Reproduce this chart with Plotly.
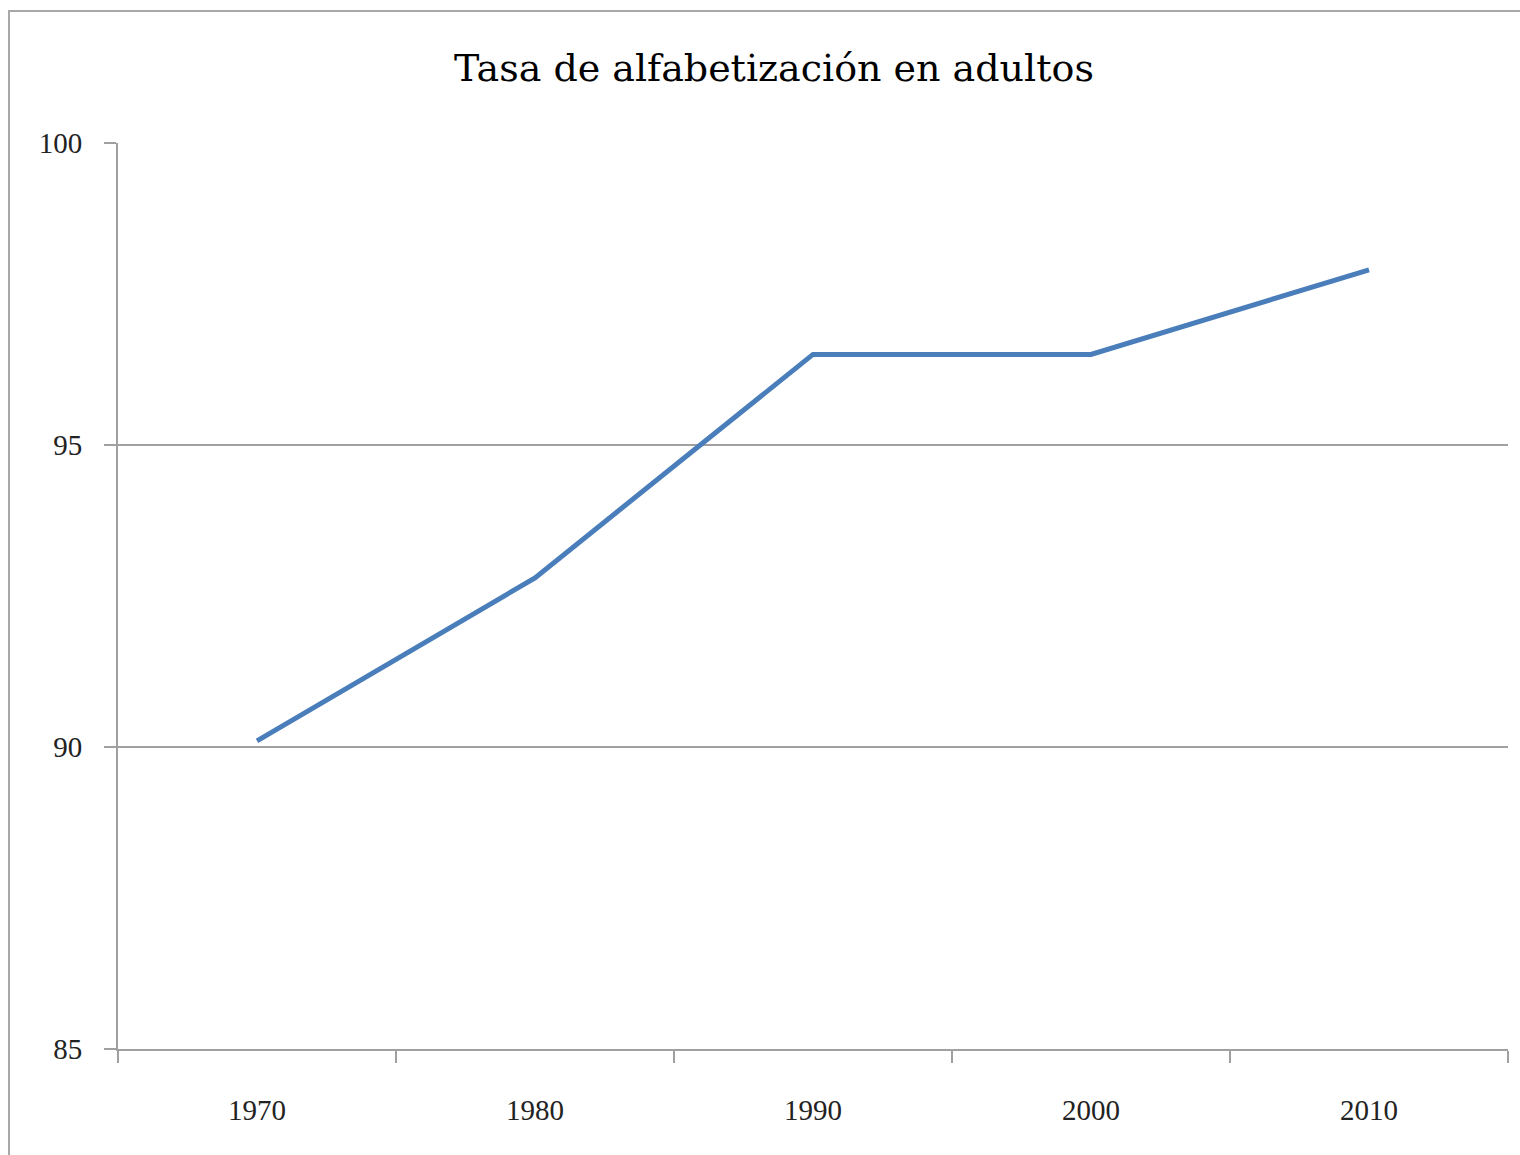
import plotly.graph_objects as go

# datos
anios = ["1970", "1980", "1990", "2000", "2010"]
tasa = [90.1, 92.8, 96.5, 96.5, 97.9]
y_ticks = [85, 90, 95, 100]

W, H = 1520, 1155
ML, MR, MT, MB = 118, 12, 143, 106
pw, ph = W - ML - MR, H - MT - MB

fig = go.Figure()
fig.add_trace(go.Scatter(
    x=anios, y=tasa, mode="lines",
    line=dict(color="#4A7EBB", width=5),
    showlegend=False,
))

serif = "Liberation Serif, Cambria, DejaVu Serif, serif"
grid = "#a0a0a0"

fig.update_layout(
    width=W, height=H,
    margin=dict(l=ML, r=MR, t=MT, b=MB),
    paper_bgcolor="white", plot_bgcolor="white",
    font=dict(family=serif, color="#000000", size=29),
    title=dict(
        text="Tasa de alfabetización en adultos",
        font=dict(family="DejaVu Serif, serif", size=38, color="#000000"),
        x=774 / W, xref="container", xanchor="center",
        y=1 - 68 / H, yref="container", yanchor="middle",
    ),
    xaxis=dict(
        type="category", range=[-0.5, 4.5],
        tickson="boundaries", ticks="outside", ticklen=12, tickwidth=2, tickcolor=grid,
        showline=True, linecolor=grid, linewidth=2,
        showgrid=False, ticklabelstandoff=34,
        tickfont=dict(family=serif, size=29, color="#222222"),
    ),
    yaxis=dict(
        range=[85, 100], tickvals=y_ticks,
        ticks="outside", ticklen=12, tickwidth=2, tickcolor=grid,
        showline=True, linecolor=grid, linewidth=2,
        showgrid=True, gridcolor=grid, gridwidth=1.5,
        zeroline=False, ticklabelstandoff=16,
        tickfont=dict(family=serif, size=29, color="#222222"),
    ),
)

# borde del área del gráfico (se sale por la derecha y por abajo)
fig.add_shape(
    type="rect", xref="paper", yref="paper",
    x0=(9 - ML) / pw, x1=1.2, y0=-0.3, y1=(H - MB - 11) / ph,
    line=dict(color="#a8a8a8", width=2), fillcolor="rgba(0,0,0,0)", layer="below",
)

# sin margen del body para que la figura empiece en (0, 0)
fig.write_html(
    "out.html",
    config={"displayModeBar": False},
    post_script="document.body.style.margin='0';document.body.style.overflow='hidden';",
)
